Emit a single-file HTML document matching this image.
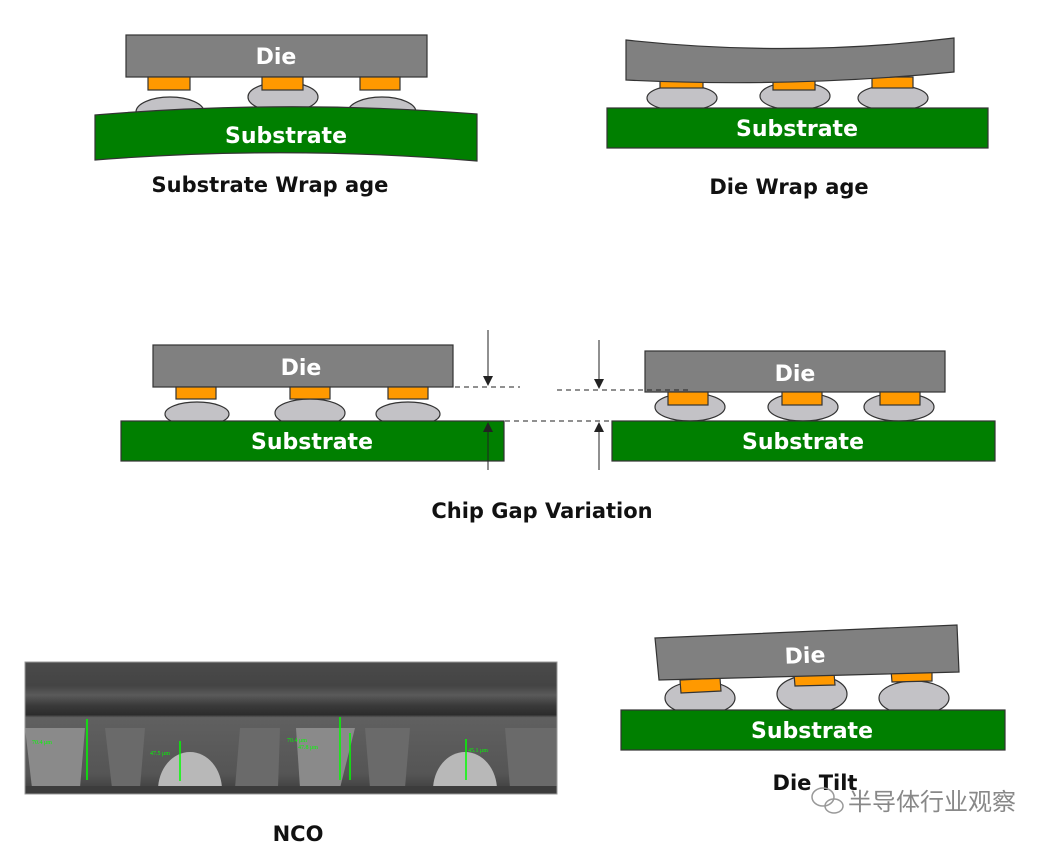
<!DOCTYPE html>
<html><head><meta charset="utf-8"><style>
body{margin:0;background:#fff;}
svg{display:block;font-family:"DejaVu Sans","Liberation Sans",sans-serif;}
.l{font-weight:bold;font-size:21px;fill:#111;}
.w{font-weight:bold;fill:#fff;font-size:22px;}
</style></head><body>
<svg width="1061" height="847" viewBox="0 0 1061 847" xmlns="http://www.w3.org/2000/svg">
<defs>
<linearGradient id="ph" x1="0" y1="0" x2="0" y2="1">
<stop offset="0" stop-color="#4a4a4a"/><stop offset="0.18" stop-color="#444"/><stop offset="0.25" stop-color="#5a5a5a"/><stop offset="0.33" stop-color="#3a3a3a"/><stop offset="0.4" stop-color="#2c2c2c"/><stop offset="0.42" stop-color="#606060"/><stop offset="0.85" stop-color="#555"/><stop offset="1" stop-color="#3a3a3a"/>
</linearGradient>
<clipPath id="pc"><rect x="25" y="662" width="532" height="132"/></clipPath>
</defs>
<g stroke="#333" stroke-width="1.2">
<!-- top left -->
<ellipse cx="170" cy="112" rx="34" ry="15" fill="#c3c2c6"/>
<ellipse cx="283" cy="97" rx="35" ry="15" fill="#c3c2c6"/>
<ellipse cx="382" cy="112" rx="34" ry="15" fill="#c3c2c6"/>
<rect x="126" y="35" width="301" height="42" fill="#808080"/>
<rect x="148" y="77" width="42" height="13" fill="#f90"/>
<rect x="262" y="77" width="41" height="13" fill="#f90"/>
<rect x="360" y="77" width="40" height="13" fill="#f90"/>
<path d="M95 115 Q286 99 477 114 L477 161 Q286 145 95 160 Z" fill="#007f00"/>
<!-- top right -->
<ellipse cx="682" cy="98" rx="35" ry="13" fill="#c3c2c6"/>
<ellipse cx="795" cy="96" rx="35" ry="14" fill="#c3c2c6"/>
<ellipse cx="893" cy="98" rx="35" ry="13" fill="#c3c2c6"/>
<rect x="660" y="77" width="43" height="11" fill="#f90"/>
<rect x="773" y="79" width="42" height="11" fill="#f90"/>
<rect x="872" y="77" width="41" height="11" fill="#f90"/>
<path d="M626 40 Q790 58 954 38 L954 72 Q790 88 626 80 Z" fill="#808080"/>
<rect x="607" y="108" width="381" height="40" fill="#007f00"/>
<!-- middle left -->
<ellipse cx="197" cy="414" rx="32" ry="12" fill="#c3c2c6"/>
<ellipse cx="310" cy="413" rx="35" ry="14" fill="#c3c2c6"/>
<ellipse cx="408" cy="414" rx="32" ry="12" fill="#c3c2c6"/>
<rect x="153" y="345" width="300" height="42" fill="#808080"/>
<rect x="176" y="387" width="40" height="12" fill="#f90"/>
<rect x="290" y="387" width="40" height="12" fill="#f90"/>
<rect x="388" y="387" width="40" height="12" fill="#f90"/>
<rect x="121" y="421" width="383" height="40" fill="#007f00"/>
<!-- middle right -->
<ellipse cx="690" cy="407" rx="35" ry="14" fill="#c3c2c6"/>
<ellipse cx="803" cy="407" rx="35" ry="14" fill="#c3c2c6"/>
<ellipse cx="899" cy="407" rx="35" ry="14" fill="#c3c2c6"/>
<rect x="645" y="351" width="300" height="41" fill="#808080"/>
<rect x="668" y="392" width="40" height="13" fill="#f90"/>
<rect x="782" y="392" width="40" height="13" fill="#f90"/>
<rect x="880" y="392" width="40" height="13" fill="#f90"/>
<rect x="612" y="421" width="383" height="40" fill="#007f00"/>
<!-- tilt -->
<ellipse cx="700" cy="698" rx="35" ry="17" fill="#c3c2c6"/>
<ellipse cx="812" cy="694" rx="35" ry="19" fill="#c3c2c6"/>
<ellipse cx="914" cy="698" rx="35" ry="17" fill="#c3c2c6"/>
<polygon points="680,680 720,678 721,691 681,693" fill="#f90"/>
<polygon points="794,674 834,673 835,685 795,686" fill="#f90"/>
<polygon points="891,670 932,669 932,681 892,682" fill="#f90"/>
<polygon points="655,638 957,625 959,672 659,680" fill="#808080"/>
<rect x="621" y="710" width="384" height="40" fill="#007f00"/>
</g>
<g stroke="#222" stroke-width="1" fill="none">
<line x1="455" y1="387" x2="520" y2="387" stroke-dasharray="5,4"/>
<line x1="505" y1="421" x2="612" y2="421" stroke-dasharray="5,4"/>
<line x1="557" y1="390" x2="690" y2="390" stroke-dasharray="5,4"/>
<line x1="488" y1="330" x2="488" y2="383"/>
<line x1="488" y1="425" x2="488" y2="470"/>
<line x1="599" y1="340" x2="599" y2="386"/>
<line x1="599" y1="425" x2="599" y2="470"/>
</g>
<g fill="#222">
<polygon points="483,376 493,376 488,386"/>
<polygon points="483,432 493,432 488,422"/>
<polygon points="594,379 604,379 599,389"/>
<polygon points="594,432 604,432 599,422"/>
</g>
<text x="276" y="64" class="w" text-anchor="middle">Die</text>
<text x="286" y="143" class="w" text-anchor="middle" font-size="25">Substrate</text>
<text x="797" y="136" class="w" text-anchor="middle">Substrate</text>
<text x="301" y="375" class="w" text-anchor="middle">Die</text>
<text x="312" y="449" class="w" text-anchor="middle">Substrate</text>
<text x="795" y="381" class="w" text-anchor="middle">Die</text>
<text x="803" y="449" class="w" text-anchor="middle">Substrate</text>
<text x="805" y="663" class="w" text-anchor="middle" transform="rotate(-2 805 655)">Die</text>
<text x="812" y="738" class="w" text-anchor="middle">Substrate</text>
<text x="270" y="192" class="l" text-anchor="middle">Substrate Wrap age</text>
<text x="789" y="194" class="l" text-anchor="middle">Die Wrap age</text>
<text x="542" y="518" class="l" text-anchor="middle">Chip Gap Variation</text>
<text x="298" y="841" class="l" text-anchor="middle">NCO</text>
<text x="815" y="790" class="l" text-anchor="middle">Die Tilt</text>
<!-- photo -->
<g clip-path="url(#pc)">
<rect x="25" y="662" width="532" height="132" fill="url(#ph)"/>
<g fill="#8a8a8a">
<path d="M25 728 H85 L80 788 H32 Z"/>
<path d="M105 728 H145 L140 788 H112 Z" fill="#6a6a6a"/>
<path d="M240 728 H280 L278 788 H235 Z" fill="#6a6a6a"/>
<path d="M296 728 H355 L340 788 H300 Z"/>
<path d="M365 728 H410 L405 788 H370 Z" fill="#6a6a6a"/>
<path d="M505 728 H557 V788 H510 Z" fill="#6a6a6a"/>
</g>
<ellipse cx="190" cy="790" rx="32" ry="38" fill="#b8b8b8"/>
<ellipse cx="465" cy="790" rx="32" ry="38" fill="#b8b8b8"/>
<rect x="25" y="786" width="532" height="8" fill="#3c3c3c"/>
</g>
<rect x="25" y="662" width="532" height="132" fill="none" stroke="#999"/>
<g stroke="#0f0" stroke-width="1.5">
<line x1="87" y1="719" x2="87" y2="780"/><line x1="180" y1="741" x2="180" y2="781"/>
<line x1="340" y1="717" x2="340" y2="780"/><line x1="350" y1="733" x2="350" y2="780"/>
<line x1="466" y1="739" x2="466" y2="780"/>
</g>
<g fill="#0f0" font-size="6" font-family="Liberation Serif,serif">
<text x="32" y="744">70.4 μm</text><text x="150" y="755">47.5 μm</text>
<text x="287" y="742">70.4 μm</text><text x="298" y="749">47.8 μm</text><text x="468" y="752">45.1 μm</text>
</g>
<g stroke="#999" fill="none" stroke-width="1.5">
<ellipse cx="823" cy="797" rx="11" ry="9"/><ellipse cx="834" cy="806" rx="9" ry="7"/>
</g>
<text x="848" y="810" font-size="24" fill="#888" font-family="'Noto Sans CJK SC',sans-serif">半导体行业观察</text>
</svg>
</body></html>
